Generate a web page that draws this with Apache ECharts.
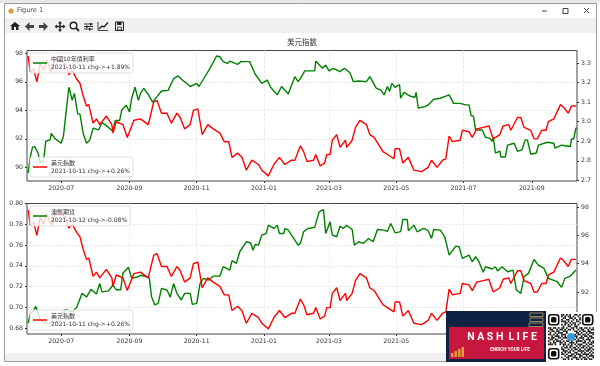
<!DOCTYPE html>
<html>
<head>
<meta charset="utf-8">
<style>
  html, body { margin: 0; padding: 0; background: #fff; }
  #chart { width: 600px; height: 366px; }
</style>
<script src="https://cdn.jsdelivr.net/npm/echarts@6/dist/echarts.min.js"></script>
</head>
<body>
<div id="chart"></div>
<script>
// 日期用距 2020-05-31 的天數表示
const startDate = '2020-05-31'
const endDate = '2021-10-12'

const usdDays = [
  1,3,6,9,12,15,18,22,25,30,35,38,41,45,48,51,54,56,60,63,66,72,77,78,81,87,91,97,103,110,
  115,118,122,127,131,136,139,143,148,151,155,159,164,169,175,179,183,186,191,195,199,204,210,213,219,224,229,234,240,243,
  247,248,251,254,260,262,266,270,272,275,277,281,284,289,290,295,298,302,308,311,315,319,323,327,333,334,338,341,346,351,
  358,364,367,372,377,380,383,386,393,395,401,404,408,414,419,423,429,432,437,439,445,448,451,457,460,463,467,471,473,478,
  484,487,491,494,498
]
const usdValues = [
  97.8,96.7,96.9,96,97.3,96.8,97.5,96.7,97.5,97.5,97.3,96.5,96.8,96.2,95.9,95,94.3,94.4,93.1,93.4,93,93.6,93,92.4,93.2,93,92.1,93.3,93.4,93,
  94.6,94.7,93.8,93.8,93.1,93.8,93.5,92.7,93,94,94.1,92.3,93,92.7,92.4,91.8,91.8,90.7,91,90.7,89.8,90.5,90.2,89.8,89.4,90.2,90.7,90.2,90.5,90.5,
  91.3,91.5,91.1,90.4,90.5,90.9,90.1,90.3,90.9,90.9,91.9,92.3,91.4,91.9,91.4,91.9,92.8,93.3,93,92.3,92.1,91.6,91.1,90.9,90.6,91.3,91.3,90.3,90.7,89.8,
  89.7,90,90.5,90,90.5,90.6,92.2,91.8,91.9,92.6,92.5,92.1,92.7,92.8,92.9,92,92.3,92.9,93,92.6,93.5,93.5,92.8,92.6,92,92,92.6,92.6,93.2,93.4,
  94.4,94.2,93.8,94.3,94.3
]

const cnDays = [
  1,3,5,7,10,12,15,17,21,22,25,31,33,35,38,41,43,46,48,51,54,57,60,65,68,72,78,80,84,86,
  90,93,95,98,101,103,106,110,114,118,122,128,133,137,141,144,148,154,156,160,166,172,175,178,182,184,191,194,202,207,
  213,218,221,227,231,237,243,246,248,252,261,262,268,271,274,278,284,288,293,296,301,308,311,317,321,324,327,329,331,334,
  338,339,342,348,352,353,355,361,364,369,375,383,387,393,398,401,403,405,407,413,416,420,422,423,425,429,430,434,436,442,
  445,449,452,454,457,462,464,472,478,479,485,493,494,496,498,499
]
const cnValues = [
  2.737,2.82,2.87,2.873,2.84,2.79,2.8,2.9,2.907,2.94,2.916,2.89,2.924,3.026,3.176,3.11,3.145,3.04,3.04,2.94,2.89,2.907,2.967,2.958,2.996,2.98,2.95,3.006,3.006,3.06,
  3.084,3.05,3.12,3.176,3.11,3.145,3.17,3.14,3.1,3.128,3.157,3.16,3.22,3.234,3.213,3.2,3.18,3.196,3.18,3.217,3.273,3.336,3.332,3.307,3.298,3.31,3.293,3.307,3.307,3.244,
  3.196,3.213,3.176,3.137,3.18,3.142,3.23,3.205,3.22,3.26,3.26,3.31,3.273,3.29,3.26,3.273,3.256,3.273,3.25,3.205,3.208,3.205,3.23,3.17,3.162,3.137,3.18,3.155,3.196,3.176,
  3.19,3.12,3.15,3.13,3.125,3.15,3.07,3.077,3.086,3.115,3.12,3.137,3.094,3.094,3.086,3.086,3.03,3.03,2.958,2.958,2.92,2.915,2.9,2.92,2.84,2.85,2.82,2.82,2.88,2.89,
  2.848,2.856,2.907,2.907,2.834,2.84,2.88,2.895,2.89,2.865,2.88,2.873,2.912,2.912,2.967,2.967
]

const audDays = [
  1,3,6,8,9,12,16,21,27,31,35,41,45,50,54,58,63,66,68,74,78,81,85,87,92,95,101,103,109,111,
  113,116,119,122,127,130,133,136,140,143,148,150,154,157,160,165,169,175,178,184,186,190,193,199,203,205,207,210,213,217,
  219,224,227,229,233,234,237,242,246,248,251,255,261,265,269,271,275,277,281,284,287,290,295,297,301,305,310,314,318,324,
  327,330,334,339,341,345,346,351,354,360,364,367,369,375,379,383,389,392,395,401,404,407,410,414,416,422,425,427,431,436,
  441,444,448,451,455,460,464,469,473,481,485,488,493,498
]
const audValues = [
  0.685,0.694,0.697,0.701,0.698,0.688,0.685,0.685,0.686,0.693,0.698,0.696,0.7,0.7136,0.71,0.7174,0.713,0.723,0.715,0.716,0.7216,0.717,0.717,0.733,0.7386,0.728,0.7296,0.731,0.7296,0.728,
  0.7104,0.7024,0.704,0.7184,0.7168,0.71,0.723,0.7136,0.7072,0.7136,0.7136,0.703,0.704,0.723,0.728,0.7264,0.7302,0.7302,0.7392,0.736,0.745,0.7424,0.7536,0.7632,0.762,0.755,0.7606,0.76,0.7696,0.7712,
  0.7792,0.776,0.7792,0.7712,0.7712,0.776,0.7745,0.7664,0.76,0.7616,0.7728,0.776,0.777,0.792,0.7942,0.7712,0.7824,0.7696,0.768,0.7782,0.776,0.779,0.775,0.76,0.7632,0.7616,0.7664,0.7632,0.775,0.7744,
  0.773,0.7808,0.7718,0.773,0.7846,0.7846,0.7738,0.7792,0.7728,0.776,0.7738,0.7664,0.775,0.7744,0.768,0.7504,0.759,0.7584,0.7472,0.7504,0.744,0.7488,0.744,0.7338,0.7392,0.737,0.7392,0.735,0.7392,0.7344,
  0.736,0.7168,0.7136,0.7296,0.7328,0.7462,0.7408,0.7376,0.728,0.7248,0.7194,0.728,0.7302,0.736
]

const monthTicks = ['2020-07-01','2020-09-01','2020-11-01','2021-01-01','2021-03-01','2021-05-01','2021-07-01','2021-09-01']
const usdTicks = [90, 92, 94, 96, 98]
const yieldTicks = [2.7, 2.8, 2.9, 3.0, 3.1, 3.2, 3.3]
const audTicks = [0.68, 0.70, 0.72, 0.74, 0.76, 0.78, 0.80]

const cnName = '中國10年債利率\n2021-10-11 chg->+1.89%'
const usdName = '美元指數\n2021-10-11 chg->+0.26%'
const audName = '澳幣期貨\n2021-10-12 chg->-0.08%'

const DAY = 86400000
const toTime = d => +new Date(d)
const pairs = (days, vals) => vals.map((v, i) => [toTime(startDate) + days[i] * DAY, v])

const textColor = '#333'
const fontFamily = '"DejaVu Sans", "Noto Sans CJK TC", sans-serif'
const gridLine = { show: true, showMaxLine: false, showMinLine: false, lineStyle: { color: '#e6e6e6', type: 'dashed', width: 0.8 } }

// 時間軸帶 customValues 會報錯, 這裡用 value 軸放 timestamp
const xAxisOf = gridIndex => ({
  type: 'value',
  gridIndex,
  min: toTime(startDate),
  max: toTime(endDate),
  axisLine: { show: false },
  axisTick: { length: 2, lineStyle: { color: '#333' }, customValues: monthTicks.map(toTime) },
  axisLabel: {
    customValues: monthTicks.map(toTime),
    color: textColor, fontSize: 6.2, fontFamily, margin: 4,
    hideOverlap: false,
    formatter: v => echarts.time.format(v, '{yyyy}-{MM}', true)
  },
  splitLine: gridLine
})

const yAxisOf = (gridIndex, position, min, max, ticks, digits, split) => ({
  type: 'value',
  gridIndex,
  position,
  min,
  max,
  axisLine: { show: false },
  axisTick: { show: true, length: 2, lineStyle: { color: '#333' }, customValues: ticks },
  axisLabel: {
    customValues: ticks,
    color: textColor, fontSize: 6.2, fontFamily, margin: 4,
    formatter: v => v.toFixed(digits)
  },
  splitLine: split ? gridLine : { show: false }
})

const lineSeries = (name, days, vals, color, axisIndex, yIndex) => ({
  name,
  type: 'line',
  data: pairs(days, vals),
  xAxisIndex: axisIndex,
  yAxisIndex: yIndex,
  showSymbol: false,
  color,
  lineStyle: { color, width: 1.4 },
  z: 2
})

const legendOf = (name, left, top) => ({
  data: [name],
  left,
  top,
  orient: 'vertical',
  selectedMode: false,
  icon: 'rect',
  itemWidth: 14,
  itemHeight: 1.5,
  itemGap: 0,
  padding: [2, 3, 2, 3],
  backgroundColor: 'rgba(255,255,255,0.8)',
  borderColor: '#d8d8d8',
  borderWidth: 0.8,
  borderRadius: 2,
  textStyle: { color: textColor, fontSize: 6, fontFamily, lineHeight: 8, padding: [0, 0, 0, -1] }
})

// 視窗外框、工具列
const chrome = [
  { type: 'rect', shape: { x: 4.5, y: 3.5, width: 592, height: 358 }, style: { fill: 'none', stroke: '#9a9a9a', lineWidth: 1 }, z: 0 },
  { type: 'rect', shape: { x: 5, y: 18, width: 591, height: 15 }, style: { fill: '#f0f0f0' }, z: 0 },
  { type: 'rect', shape: { x: 5, y: 353, width: 591, height: 8 }, style: { fill: '#f0f0f0' }, z: 0 },
  { type: 'rect', shape: { x: 0, y: 0, width: 600, height: 3 }, style: { fill: '#e8e8e8' }, z: 0 },
  { type: 'circle', shape: { cx: 11, cy: 11, r: 2.5 }, style: { fill: '#e8923a' }, z: 1 },
  { type: 'text', x: 17, y: 7, style: { text: 'Figure 1', fontSize: 6.5, fontFamily, fill: '#444' }, z: 1 },
  { type: 'line', shape: { x1: 542, y1: 11, x2: 547, y2: 11 }, style: { stroke: '#444' }, z: 1 },
  { type: 'rect', shape: { x: 563, y: 8.5, width: 5, height: 5 }, style: { fill: 'none', stroke: '#444' }, z: 1 },
  { type: 'line', shape: { x1: 584, y1: 8, x2: 589, y2: 13 }, style: { stroke: '#444' }, z: 1 },
  { type: 'line', shape: { x1: 589, y1: 8, x2: 584, y2: 13 }, style: { stroke: '#444' }, z: 1 },
  // home
  { type: 'polygon', shape: { points: [[10, 26], [15, 22], [20, 26], [18.5, 26], [18.5, 30], [16, 30], [16, 27], [14, 27], [14, 30], [11.5, 30], [11.5, 26]] }, style: { fill: '#222' }, z: 1 },
  // back / forward
  { type: 'polygon', shape: { points: [[25, 26.5], [29.5, 22], [29.5, 25], [34, 25], [34, 28], [29.5, 28], [29.5, 31]] }, style: { fill: '#444' }, z: 1 },
  { type: 'polygon', shape: { points: [[48, 26.5], [43.5, 22], [43.5, 25], [39, 25], [39, 28], [43.5, 28], [43.5, 31]] }, style: { fill: '#444' }, z: 1 },
  // pan
  { type: 'polygon', shape: { points: [[60, 21], [62, 23.5], [60.7, 23.5], [60.7, 25.8], [63, 25.8], [63, 24.5], [65.5, 26.5], [63, 28.5], [63, 27.2], [60.7, 27.2], [60.7, 29.5], [62, 29.5], [60, 32], [58, 29.5], [59.3, 29.5], [59.3, 27.2], [57, 27.2], [57, 28.5], [54.5, 26.5], [57, 24.5], [57, 25.8], [59.3, 25.8], [59.3, 23.5], [58, 23.5]] }, style: { fill: '#222' }, z: 1 },
  // zoom
  { type: 'circle', shape: { cx: 73.5, cy: 25.5, r: 3.3 }, style: { fill: 'none', stroke: '#222', lineWidth: 1.4 }, z: 1 },
  { type: 'line', shape: { x1: 76, y1: 28, x2: 79, y2: 31 }, style: { stroke: '#222', lineWidth: 1.8 }, z: 1 },
  // sliders
  { type: 'line', shape: { x1: 84, y1: 24, x2: 93, y2: 24 }, style: { stroke: '#333', lineWidth: 1 }, z: 1 },
  { type: 'line', shape: { x1: 84, y1: 26.5, x2: 93, y2: 26.5 }, style: { stroke: '#333', lineWidth: 1 }, z: 1 },
  { type: 'line', shape: { x1: 84, y1: 29, x2: 93, y2: 29 }, style: { stroke: '#333', lineWidth: 1 }, z: 1 },
  { type: 'rect', shape: { x: 90, y: 23, width: 1.5, height: 2.5 }, style: { fill: '#222' }, z: 1 },
  { type: 'rect', shape: { x: 86, y: 25.5, width: 1.5, height: 2.5 }, style: { fill: '#222' }, z: 1 },
  { type: 'rect', shape: { x: 89, y: 28, width: 1.5, height: 2.5 }, style: { fill: '#222' }, z: 1 },
  // axes icon
  { type: 'polyline', shape: { points: [[98, 22], [98, 30.5], [108, 30.5]] }, style: { fill: 'none', stroke: '#333', lineWidth: 0.9 }, z: 1 },
  { type: 'polyline', shape: { points: [[99, 29], [102, 26], [104, 27], [108, 22.5]] }, style: { fill: 'none', stroke: '#222', lineWidth: 1.4 }, z: 1 },
  // save
  { type: 'rect', shape: { x: 115.5, y: 22, width: 8, height: 8.5 }, style: { fill: 'none', stroke: '#222', lineWidth: 1 }, z: 1 },
  { type: 'rect', shape: { x: 117, y: 22, width: 4.5, height: 3 }, style: { fill: '#222' }, z: 1 },
  { type: 'rect', shape: { x: 117.5, y: 27, width: 4, height: 3 }, style: { fill: 'none', stroke: '#222', lineWidth: 0.8 }, z: 1 }
]

// 右下角 Nash Life 圖章與 QR
const qrRows = [
  '0000000011010100110100000000','0000000010101101001000000000','0000000001100110100100000000',
  '0000000010011001010100000000','0000000011101010011000000000','0000000000110101100100000000',
  '0000000010101010101000000000','0000000001001100110000000000','1101101011010011010110110101',
  '0110010110101101001011001011','1011011001110000110101101100','0100101110010000011010010111',
  '1101010011100000101101101001','0010111010100000110010110110','1011001101110000010111001011',
  '0110110010001101101001011100','1001011101011010011110100101','0101100110100111010001101011',
  '1110100101101010101110010110','0000000001010110010101101001','0000000010110101101011010110',
  '0000000011001010110100101101','0000000001110101001111011010','0000000010101100110010100101',
  '0000000011010011011101111010','0000000000101110100110010111','0000000010011001110101101001',
  '0000000001101010011010110110'
]
const qrSize = 46 / qrRows.length
const qrCells = []
qrRows.forEach((row, r) => row.split('').forEach((c, col) => {
  if (c === '1') qrCells.push({ type: 'rect', shape: { x: 548 + col * qrSize, y: 314 + r * qrSize, width: qrSize, height: qrSize }, style: { fill: '#111' }, z: 22 })
}))
const finder = (x, y) => [
  { type: 'rect', shape: { x: x + 0.7, y: y + 0.7, width: 10, height: 10, r: 2.5 }, style: { fill: 'none', stroke: '#111', lineWidth: 1.6 }, z: 22 },
  { type: 'rect', shape: { x: x + 3, y: y + 3, width: 5.4, height: 5.4, r: 1.5 }, style: { fill: '#111' }, z: 22 }
]
const badge = [
  { type: 'rect', shape: { x: 546, y: 312, width: 54, height: 50 }, style: { fill: '#fff' }, z: 20 },
  { type: 'rect', shape: { x: 446, y: 311, width: 100, height: 51 }, style: { fill: '#0f2244' }, z: 20 },
  { type: 'rect', shape: { x: 449, y: 327, width: 95, height: 32 }, style: { fill: '#c8173f' }, z: 21 },
  { type: 'rect', shape: { x: 530, y: 313, width: 13, height: 3.5 }, style: { fill: 'none', stroke: '#b8a060', lineWidth: 0.8 }, z: 21 },
  { type: 'rect', shape: { x: 530, y: 318, width: 13, height: 3.5 }, style: { fill: 'none', stroke: '#b8a060', lineWidth: 0.8 }, z: 21 },
  { type: 'rect', shape: { x: 529, y: 323, width: 14, height: 3.5 }, style: { fill: 'none', stroke: '#b8a060', lineWidth: 0.8 }, z: 21 },
  { type: 'text', x: 502, y: 337, style: { text: 'N A S H  L I F E', fontSize: 10.5, fontWeight: 'bold', fontFamily: 'Roboto, sans-serif', fill: '#fff', align: 'center', verticalAlign: 'middle' }, z: 22 },
  { type: 'text', x: 510, y: 350, style: { text: 'ENRICH YOUR LIFE', fontSize: 4.6, fontWeight: 'bold', fontFamily: 'Roboto, sans-serif', fill: '#fff', align: 'center', verticalAlign: 'middle' }, z: 22 },
  { type: 'rect', shape: { x: 451, y: 353, width: 2.5, height: 4 }, style: { fill: '#e0a030' }, z: 22 },
  { type: 'rect', shape: { x: 454.5, y: 351, width: 2.5, height: 6 }, style: { fill: '#e0a030' }, z: 22 },
  { type: 'rect', shape: { x: 458, y: 349, width: 2.5, height: 8 }, style: { fill: '#e0a030' }, z: 22 },
  { type: 'rect', shape: { x: 461.5, y: 347, width: 2.5, height: 10 }, style: { fill: '#e0a030' }, z: 22 },
  ...qrCells,
  ...finder(548, 314),
  ...finder(582, 314),
  ...finder(548, 348),
  { type: 'circle', shape: { cx: 571, cy: 337, r: 4 }, style: { fill: '#3a9bdc' }, z: 23 }
]

const chart = echarts.init(document.getElementById('chart'), null, { renderer: 'canvas' })
chart.setOption({
  animation: false,
  useUTC: true,
  backgroundColor: '#fff',
  title: {
    text: '美元指數',
    left: 302,
    textAlign: 'center',
    top: 38,
    padding: 0,
    textStyle: { color: textColor, fontWeight: 'normal', fontSize: 7.5, fontFamily: '"Noto Sans CJK TC", sans-serif' }
  },
  grid: [
    { left: 27, width: 550, top: 50.5, height: 130.5, show: true, borderColor: '#444', borderWidth: 1, backgroundColor: 'transparent' },
    { left: 27, width: 550, top: 203.5, height: 130.5, show: true, borderColor: '#444', borderWidth: 1, backgroundColor: 'transparent' }
  ],
  xAxis: [xAxisOf(0), xAxisOf(1)],
  yAxis: [
    yAxisOf(0, 'left', 89.04, 98.2, usdTicks, 0, true),
    yAxisOf(0, 'right', 2.697, 3.364, yieldTicks, 1, false),
    yAxisOf(1, 'left', 0.6745, 0.8, audTicks, 2, true),
    yAxisOf(1, 'right', 89.04, 98.24, usdTicks, 0, false)
  ],
  legend: [
    legendOf(cnName, 30, 53),
    legendOf(usdName, 30, 157),
    legendOf(audName, 30, 206),
    legendOf(usdName, 30, 310)
  ],
  series: [
    lineSeries(cnName, cnDays, cnValues, '#008000', 0, 1),
    lineSeries(usdName, usdDays, usdValues, '#ff0000', 0, 0),
    lineSeries(audName, audDays, audValues, '#008000', 1, 2),
    lineSeries(usdName, usdDays, usdValues, '#ff0000', 1, 3)
  ],
  graphic: { elements: [...chrome, ...badge] }
})
</script>
</body>
</html>
